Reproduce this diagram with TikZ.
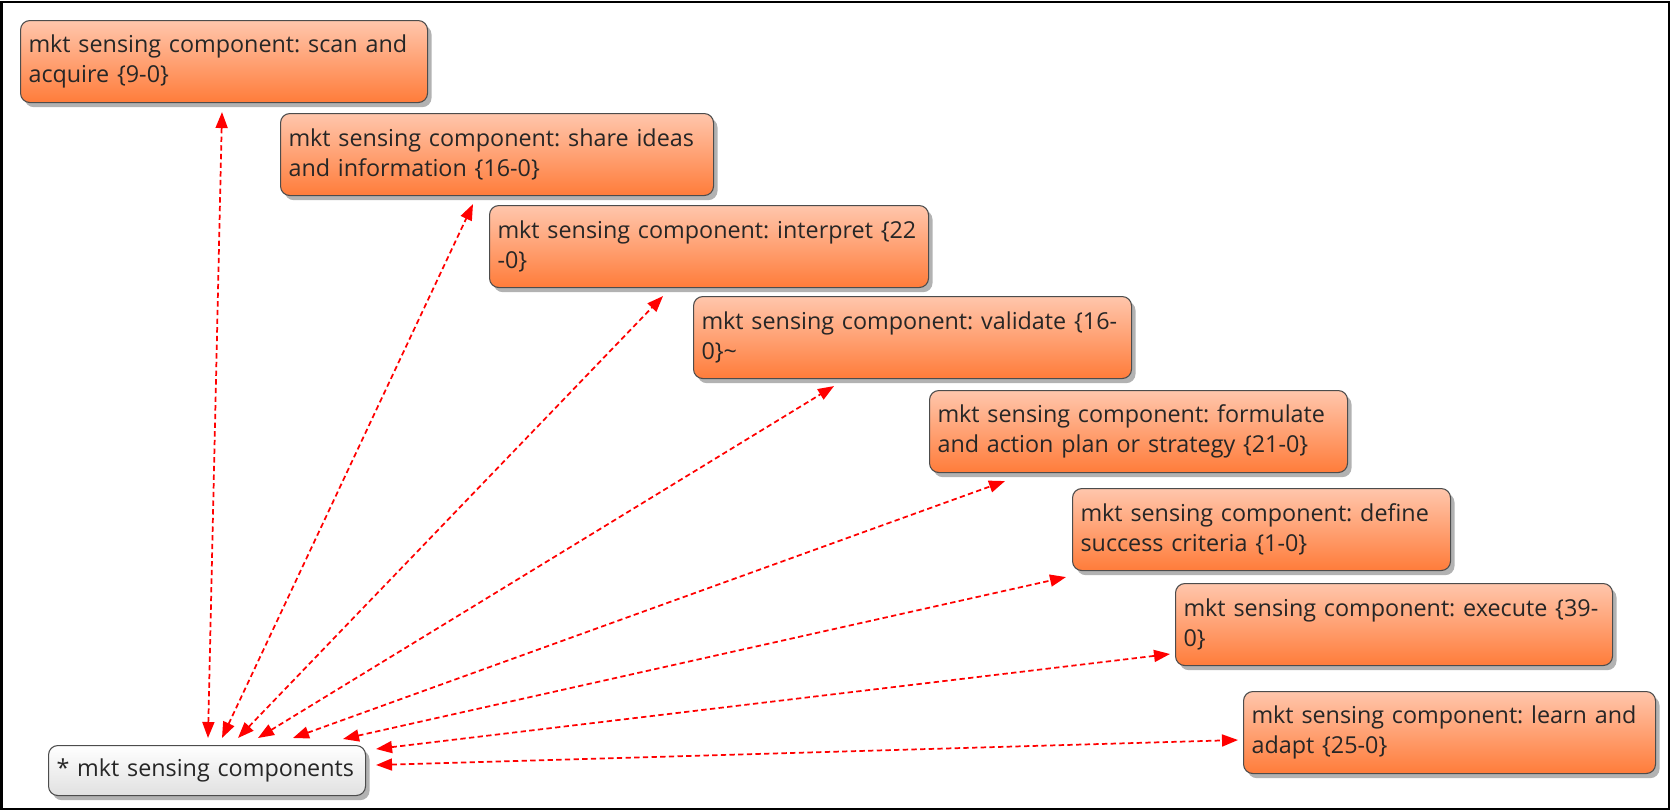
\documentclass[tikz,border=0pt]{standalone}
\usepackage{fontspec}
\setmainfont{Open Sans}
\usepackage{tikz}
\usetikzlibrary{arrows.meta,shadows,calc}
\definecolor{compTop}{RGB}{255,198,172}
\definecolor{compBottom}{RGB}{255,124,58}
\newcommand{\compFontSize}[0]{\fontsize{17.5}{22.5}\selectfont}
\newcommand{\linkColor}[0]{red}
\newcommand{\compPrefix}[0]{mkt sensing component:}

\begin{document}
\begin{tikzpicture}[x=0.75pt, y=-0.75pt]
  \tikzset{
    comp/.style={anchor=north west, draw=black!70, line width=0.8pt, rounded corners=7pt,
      top color=compTop, bottom color=compBottom, align=left, inner xsep=6pt, inner ysep=0pt,
      minimum height=61.5pt, font=\compFontSize, text=black!85,
      drop shadow={shadow xshift=3pt, shadow yshift=-3.5pt, fill=black, opacity=0.3}},
    rootbox/.style={comp, top color=white, bottom color=black!12, minimum height=37.5pt},
    compLink/.style={\linkColor, line width=1.3pt, dash pattern=on 4pt off 2.5pt,
      {Triangle[length=12pt,width=9pt]}-{Triangle[length=12pt,width=9pt]}}
  }
  \useasboundingbox (0,0) rectangle (1675,811);
  \draw[line width=1.5pt] (1.5,1.5) rectangle (1669,809);
  \node[comp, text width=293.25pt] (comp-1) at (20,20) {\mbox{\compPrefix\ scan and}\\acquire \{9-0\}};
  \node[comp, text width=312.75pt] (comp-2) at (280,113) {\mbox{\compPrefix\ share ideas}\\and information \{16-0\}};
  \node[comp, text width=317.25pt] (comp-3) at (489,205) {\mbox{\compPrefix\ interpret \{22}\\-0\}};
  \node[comp, text width=316.5pt] (comp-4) at (693,296) {\mbox{\compPrefix\ validate \{16-}\\0\}\textasciitilde};
  \node[comp, text width=301.5pt] (comp-5) at (929,390) {\mbox{\compPrefix\ formulate}\\\mbox{and action plan or strategy \{21-0\}}};
  \node[comp, text width=271.5pt] (comp-6) at (1072,488) {\mbox{\compPrefix\ define}\\success criteria \{1-0\}};
  \node[comp, text width=315.75pt] (comp-7) at (1175,583) {\mbox{\compPrefix\ execute \{39-}\\0\}};
  \node[comp, text width=297pt] (comp-8) at (1243,691) {\mbox{\compPrefix\ learn and}\\adapt \{25-0\}};
  \node[rootbox, text width=225.75pt] (comps-0) at (48,745) {\mbox{* mkt sensing components}};
  \draw[compLink] ($(comps-0.north west)+(160,-7)$) -- ($(comp-1.south west)+(202,9)$);
  \draw[compLink] ($(comps-0.north west)+(174,-7)$) -- ($(comp-2.south west)+(193,8)$);
  \draw[compLink] ($(comps-0.north west)+(190,-7)$) -- ($(comp-3.south west)+(174,8)$);
  \draw[compLink] ($(comps-0.north west)+(210,-7)$) -- ($(comp-4.south west)+(141,7)$);
  \draw[compLink] ($(comps-0.north west)+(245,-7)$) -- ($(comp-5.south west)+(76,8)$);
  \draw[compLink] ($(comps-0.north west)+(295,-6)$) -- ($(comp-6.south west)+(-6,6)$);
  \draw[compLink] ($(comps-0.north east)+(10,4)$) -- ($(comp-7.north west)+(-5,71)$);
  \draw[compLink] ($(comps-0.north east)+(10,20)$) -- ($(comp-8.north west)+(-5,49)$);
\end{tikzpicture}
\end{document}
